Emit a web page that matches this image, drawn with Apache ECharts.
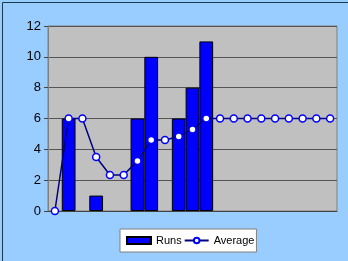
<!DOCTYPE html>
<html><head><meta charset="utf-8">
<script src="https://cdn.jsdelivr.net/npm/echarts@6/dist/echarts.min.js"></script>
<style>html,body{margin:0;padding:0;background:#99CCFF}#c{width:348px;height:261px}</style>
</head><body><div id="c"></div>
<script>
var categories = ['1','2','3','4','5','6','7','8','9','10','11','12','13','14','15','16','17','18','19','20','21'];
var runs = [null,6,null,1,null,null,6,10,null,6,8,11,null,null,null,null,null,null,null,null,null];
var average = [0,6,6,3.5,2.33,2.33,3.25,4.6,4.6,4.83,5.29,6,6,6,6,6,6,6,6,6,6];
var yTicks = [0,2,4,6,8,10,12];

var chart = echarts.init(document.getElementById('c'));
chart.setOption({
  animation: false,
  backgroundColor: '#99CCFF',
  graphic: [{
    type: 'rect', left: 0, top: 0, z: 100, silent: true,
    shape: {x: 0.5, y: 0.5, width: 347, height: 260},
    style: {fill: 'none', stroke: '#1b3a4b', lineWidth: 1}
  }],
  grid: {left: 48, right: 11, top: 26, bottom: 50, show: true, backgroundColor: '#C0C0C0', borderColor: '#808080', borderWidth: 1},
  legend: {
    top: 229, left: 120,
    backgroundColor: '#ffffff', borderColor: '#808080', borderWidth: 1,
    padding: [6, 2, 6, 6], itemGap: 2, itemWidth: 24, itemHeight: 7,
    textStyle: {fontFamily: 'Liberation Sans', fontSize: 11, color: '#000'},
    data: [
      {name: 'Runs', icon: 'rect'},
      {name: 'Average'}
    ]
  },
  xAxis: {
    type: 'category', data: categories, boundaryGap: true,
    axisLine: {lineStyle: {color: '#444', width: 1}},
    axisTick: {show: false}, axisLabel: {show: false}
  },
  yAxis: {
    type: 'value', min: 0, max: 12, interval: 2,
    axisLine: {show: true, lineStyle: {color: '#808080'}},
    axisTick: {show: true, length: 4, lineStyle: {color: '#444'}},
    axisLabel: {fontFamily: 'Liberation Sans', fontSize: 13, color: '#000', margin: 7,
      formatter: function(v){ return yTicks.indexOf(v) >= 0 ? String(v) : ''; }},
    splitLine: {show: true, lineStyle: {color: '#555555', width: 1}}
  },
  series: [
    {name: 'Runs', type: 'bar', data: runs, barCategoryGap: '0%', barGap: '0%',
      itemStyle: {color: '#0000FF', borderColor: '#000000', borderWidth: 1}},
    {name: 'Average', type: 'line', data: average, symbol: 'circle', symbolSize: 7, showAllSymbol: true,
      lineStyle: {color: '#000080', width: 1.5},
      itemStyle: {color: '#ffffff', borderColor: '#0000FF', borderWidth: 1.5}}
  ]
});
</script></body></html>
